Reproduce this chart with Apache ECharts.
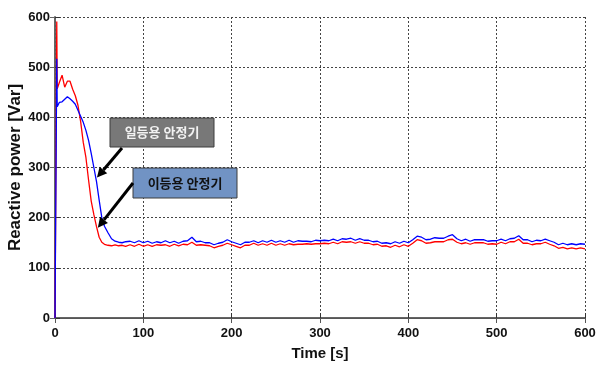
<!DOCTYPE html>
<html>
<head>
<meta charset="utf-8">
<script src="https://cdn.jsdelivr.net/npm/echarts@6/dist/echarts.min.js"></script>
<style>
  html, body { margin: 0; padding: 0; background: #fff; }
  #chart { width: 598px; height: 365px; }
</style>
</head>
<body>
<div id="chart"></div>
<script>
// Sample times [s]
const timeS = [
  0, 2, 2.5, 5, 8, 11, 14, 17, 20, 23, 26, 29, 32, 35, 38, 41, 44, 47, 50, 53, 56, 60, 64, 68, 72, 76, 80,
  85, 90, 95, 100, 105, 110, 115, 120, 125, 130, 135, 140, 145, 150, 155, 160, 165, 170, 175, 180,
  185, 190, 195, 200, 205, 210, 215, 220, 225, 230, 235, 240, 245, 250, 255, 260, 265, 270, 275, 280,
  285, 290, 295, 300, 305, 310, 315, 320, 325, 330, 335, 340, 345, 350, 355, 360, 365, 370, 375, 380,
  385, 390, 395, 400, 405, 410, 415, 420, 425, 430, 435, 440, 445, 450, 455, 460, 465, 470, 475, 480,
  485, 490, 495, 500, 505, 510, 515, 520, 525, 530, 535, 540, 545, 550, 555, 560, 565, 570, 575, 580,
  585, 590, 595, 600
];

// Reactive power [Var], two-lamp ballast (red)
const redPower = [
  0, 591, 457, 470, 484, 460, 472, 472, 456, 443, 424, 392, 350, 320, 275, 233, 206, 182, 161, 151, 147, 145, 144, 146, 144, 145, 143,
  146, 143, 147, 143, 146, 143, 146, 145, 146, 143, 147, 144, 147, 146, 151, 145, 146, 145, 144, 140,
  143, 145, 149, 146, 143, 140, 145, 145, 149, 145, 148, 145, 149, 145, 148, 145, 148, 146, 147, 147,
  148, 147, 148, 148, 149, 148, 151, 148, 152, 151, 152, 149, 152, 149, 149, 146, 147, 143, 144, 141,
  145, 142, 146, 143, 149, 156, 154, 149, 150, 152, 152, 152, 156, 157, 151, 148, 150, 147, 150, 150,
  150, 147, 148, 147, 151, 148, 152, 152, 157, 149, 149, 146, 148, 148, 151, 147, 144, 139, 141, 138,
  140, 138, 140, 138
];

// Reactive power [Var], one-lamp ballast (blue)
const bluePower = [
  0, 517, 421, 430, 431, 436, 441, 437, 432, 426, 414, 402, 390, 374, 354, 328, 300, 272, 235, 200, 183, 170, 158, 153, 151, 150, 152,
  153, 150, 154, 150, 153, 149, 152, 150, 154, 150, 153, 149, 153, 154, 161, 152, 153, 150, 150, 146,
  149, 151, 156, 152, 149, 146, 151, 151, 154, 150, 154, 151, 155, 151, 154, 151, 155, 151, 154, 153,
  153, 152, 155, 154, 155, 154, 157, 154, 158, 157, 159, 155, 158, 155, 155, 152, 153, 149, 150, 148,
  152, 149, 153, 150, 156, 163, 161, 156, 157, 160, 159, 159, 163, 166, 158, 154, 157, 153, 156, 156,
  156, 153, 154, 154, 157, 154, 158, 159, 164, 156, 156, 152, 155, 154, 157, 154, 151, 146, 149, 146,
  148, 146, 148, 147
];

const axisTicks = [0, 100, 200, 300, 400, 500, 600];

const labelOne = '일등용 안정기';
const labelTwo = '이등용 안정기';

const chart = echarts.init(document.getElementById('chart'), null, { renderer: 'canvas' });

const pairs = (xs, ys) => xs.map((x, i) => [x, ys[i]]);

const tickFont = { fontFamily: 'Liberation Sans', fontWeight: 'bold', fontSize: 13, color: '#111' };
const gridDash = { color: '#444', width: 1, type: [2, 2] };

chart.setOption({
  animation: false,
  backgroundColor: '#fff',
  grid: { left: 55, right: 13, top: 17, bottom: 47, containLabel: false, outerBoundsMode: 'none' },
  xAxis: [{
    type: 'value', min: axisTicks[0], max: axisTicks[axisTicks.length - 1], interval: 100,
    name: 'Time [s]', nameLocation: 'middle', nameGap: 28, nameMoveOverlap: false,
    nameTextStyle: { fontFamily: 'Liberation Sans', fontWeight: 'bold', fontSize: 15, color: '#111' },
    axisLine: { show: true, onZero: false, lineStyle: { color: '#333', width: 1.5 } },
    axisTick: { show: true, inside: true, length: 5, lineStyle: { color: '#333' } },
    axisLabel: Object.assign({ margin: 9 }, tickFont),
    splitLine: { show: true, lineStyle: gridDash }
  }, {
    type: 'value', position: 'top', min: 0, max: 600, interval: 100,
    axisLine: { show: true, lineStyle: { color: '#555', width: 1 } },
    axisTick: { show: true, inside: true, length: 5, lineStyle: { color: '#555' } },
    axisLabel: { show: false }, splitLine: { show: false }
  }],
  yAxis: [{
    type: 'value', min: axisTicks[0], max: axisTicks[axisTicks.length - 1], interval: 100,
    name: 'Reactive power [Var]', nameLocation: 'middle', nameGap: 31, nameMoveOverlap: false,
    nameTextStyle: { fontFamily: 'Liberation Sans', fontWeight: 'bold', fontSize: 17, color: '#111' },
    axisLine: { show: true, onZero: false, lineStyle: { color: '#333', width: 1.5 } },
    axisTick: { show: true, inside: true, length: 5, lineStyle: { color: '#333' } },
    axisLabel: Object.assign({ margin: 5 }, tickFont),
    splitLine: { show: true, lineStyle: gridDash }
  }, {
    type: 'value', position: 'right', min: 0, max: 600, interval: 100,
    axisLine: { show: true, lineStyle: { color: '#666', width: 1.5 } },
    axisTick: { show: true, inside: true, length: 5, lineStyle: { color: '#666' } },
    axisLabel: { show: false }, splitLine: { show: false }
  }],
  series: [{
    name: labelTwo, type: 'line', data: pairs(timeS, redPower),
    showSymbol: false, lineStyle: { color: '#ff0000', width: 1.3 }, z: 3
  }, {
    name: labelOne, type: 'line', data: pairs(timeS, bluePower),
    showSymbol: false, lineStyle: { color: '#0000ff', width: 1.3 }, z: 4
  }]
});

// Callout boxes with arrows pointing at the curves
function arrow(from, tip) {
  const dx = tip[0] - from[0], dy = tip[1] - from[1];
  const len = Math.hypot(dx, dy), ux = dx / len, uy = dy / len;
  const headLen = 10, headW = 5;
  const bx = tip[0] - ux * headLen, by = tip[1] - uy * headLen;
  return [{
    type: 'line', z: 10,
    shape: { x1: from[0], y1: from[1], x2: bx, y2: by },
    style: { stroke: '#000', lineWidth: 3 }
  }, {
    type: 'polygon', z: 10,
    shape: { points: [tip, [bx - uy * headW, by + ux * headW], [bx + uy * headW, by - ux * headW]] },
    style: { fill: '#000' }
  }];
}

function callout(x, y, w, h, text, fill, textColor) {
  return {
    type: 'group', z: 11, children: [{
      type: 'rect', shape: { x: x, y: y, width: w, height: h },
      style: { fill: fill, stroke: '#3c3c3c', lineWidth: 1 }
    }, {
      type: 'text', x: x + w / 2, y: y + h / 2,
      style: {
        text: text, fill: textColor, align: 'center', verticalAlign: 'middle',
        font: 'bold 13px "Noto Sans CJK KR"'
      }
    }]
  };
}

const tipBlue = chart.convertToPixel({ xAxisIndex: 0, yAxisIndex: 0 }, [47.5, 280]);
const tipRed = chart.convertToPixel({ xAxisIndex: 0, yAxisIndex: 0 }, [48.5, 180]);

chart.setOption({
  graphic: [
    ...arrow([122, 148], tipBlue),
    ...arrow([133, 183], tipRed),
    callout(110, 118, 104, 29, labelOne, '#787878', '#f2f2f2'),
    callout(133, 168, 104, 30, labelTwo, '#7193c4', '#111')
  ]
});
</script>
</body>
</html>
